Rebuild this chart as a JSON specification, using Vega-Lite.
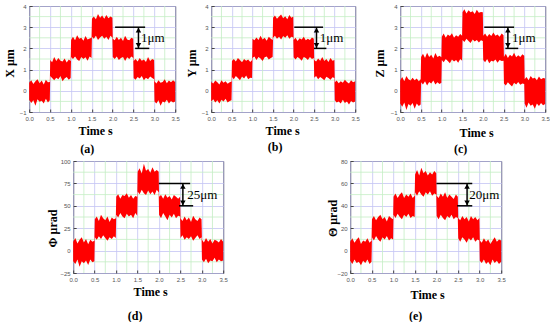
{
"$schema":"https://vega.github.io/schema/vega-lite/v6.json",
"background":"white",
"padding":{"left":2,"top":2,"right":0,"bottom":0},
"datasets":{
"xminor":[{"t":0.25},{"t":0.75},{"t":1.25},{"t":1.75},{"t":2.25},{"t":2.75},{"t":3.25}],
"yminor1":[{"lo":-0.5},{"lo":0.5},{"lo":1.5},{"lo":2.5},{"lo":3.5}],
"yminor25":[{"lo":-12.5},{"lo":12.5},{"lo":37.5},{"lo":62.5},{"lo":87.5}],
"yminor20":[{"lo":-10},{"lo":10},{"lo":30},{"lo":50},{"lo":70}],
"a":[{"t":0,"lo":-0.42,"hi":0.38},{"t":0.05,"lo":-0.58,"hi":0.5},{"t":0.1,"lo":-0.45,"hi":0.32},{"t":0.15,"lo":-0.7,"hi":0.45},{"t":0.2,"lo":-0.4,"hi":0.55},{"t":0.25,"lo":-0.52,"hi":0.36},{"t":0.3,"lo":-0.47,"hi":0.48},{"t":0.35,"lo":-0.6,"hi":0.3},{"t":0.4,"lo":-0.38,"hi":0.52},{"t":0.45,"lo":-0.55,"hi":0.4},{"t":0.495,"lo":-0.44,"hi":0.42},
{"t":0.505,"lo":0.7,"hi":1.45},{"t":0.55,"lo":0.6,"hi":1.35},{"t":0.6,"lo":0.5,"hi":1.6},{"t":0.65,"lo":0.62,"hi":1.4},{"t":0.7,"lo":0.55,"hi":1.55},{"t":0.75,"lo":0.7,"hi":1.42},{"t":0.8,"lo":0.45,"hi":1.38},{"t":0.85,"lo":0.58,"hi":1.52},{"t":0.9,"lo":0.65,"hi":1.34},{"t":0.95,"lo":0.52,"hi":1.48},{"t":0.995,"lo":0.6,"hi":1.4},
{"t":1.005,"lo":1.6,"hi":2.4},{"t":1.05,"lo":1.5,"hi":2.55},{"t":1.1,"lo":1.62,"hi":2.38},{"t":1.15,"lo":1.48,"hi":2.62},{"t":1.2,"lo":1.4,"hi":2.45},{"t":1.25,"lo":1.6,"hi":2.5},{"t":1.3,"lo":1.5,"hi":2.36},{"t":1.35,"lo":1.58,"hi":2.58},{"t":1.4,"lo":1.42,"hi":2.42},{"t":1.45,"lo":1.62,"hi":2.47},{"t":1.495,"lo":1.55,"hi":2.5},
{"t":1.505,"lo":2.55,"hi":3.4},{"t":1.55,"lo":2.45,"hi":3.5},{"t":1.6,"lo":2.6,"hi":3.38},{"t":1.65,"lo":2.4,"hi":3.62},{"t":1.7,"lo":2.52,"hi":3.45},{"t":1.75,"lo":2.6,"hi":3.55},{"t":1.8,"lo":2.45,"hi":3.4},{"t":1.85,"lo":2.55,"hi":3.58},{"t":1.9,"lo":2.4,"hi":3.42},{"t":1.95,"lo":2.6,"hi":3.5},{"t":1.995,"lo":2.5,"hi":3.45},
{"t":2.005,"lo":1.6,"hi":2.45},{"t":2.05,"lo":1.5,"hi":2.38},{"t":2.1,"lo":1.62,"hi":2.55},{"t":2.15,"lo":1.45,"hi":2.4},{"t":2.2,"lo":1.55,"hi":2.5},{"t":2.25,"lo":1.6,"hi":2.35},{"t":2.3,"lo":1.4,"hi":2.6},{"t":2.35,"lo":1.58,"hi":2.42},{"t":2.4,"lo":1.5,"hi":2.38},{"t":2.45,"lo":1.62,"hi":2.5},{"t":2.495,"lo":1.55,"hi":2.45},
{"t":2.505,"lo":0.6,"hi":1.4},{"t":2.55,"lo":0.52,"hi":1.5},{"t":2.6,"lo":0.65,"hi":1.38},{"t":2.65,"lo":0.58,"hi":1.55},{"t":2.7,"lo":0.7,"hi":1.42},{"t":2.75,"lo":0.5,"hi":1.48},{"t":2.8,"lo":0.62,"hi":1.36},{"t":2.85,"lo":0.55,"hi":1.6},{"t":2.9,"lo":0.68,"hi":1.4},{"t":2.95,"lo":0.6,"hi":1.5},{"t":2.995,"lo":0.55,"hi":1.45},
{"t":3.005,"lo":-0.5,"hi":0.45},{"t":3.05,"lo":-0.6,"hi":0.35},{"t":3.1,"lo":-0.45,"hi":0.5},{"t":3.15,"lo":-0.7,"hi":0.38},{"t":3.2,"lo":-0.5,"hi":0.42},{"t":3.25,"lo":-0.55,"hi":0.55},{"t":3.3,"lo":-0.42,"hi":0.36},{"t":3.35,"lo":-0.6,"hi":0.48},{"t":3.4,"lo":-0.48,"hi":0.4},{"t":3.45,"lo":-0.55,"hi":0.5},{"t":3.5,"lo":-0.5,"hi":0.42}],
"b":[{"t":0,"lo":-0.5,"hi":0.42},{"t":0.05,"lo":-0.4,"hi":0.35},{"t":0.1,"lo":-0.55,"hi":0.48},{"t":0.15,"lo":-0.45,"hi":0.4},{"t":0.2,"lo":-0.6,"hi":0.3},{"t":0.25,"lo":-0.42,"hi":0.5},{"t":0.3,"lo":-0.5,"hi":0.38},{"t":0.35,"lo":-0.38,"hi":0.45},{"t":0.4,"lo":-0.55,"hi":0.33},{"t":0.45,"lo":-0.48,"hi":0.4},{"t":0.495,"lo":-0.45,"hi":0.44},
{"t":0.505,"lo":0.65,"hi":1.4},{"t":0.55,"lo":0.55,"hi":1.5},{"t":0.6,"lo":0.7,"hi":1.38},{"t":0.65,"lo":0.6,"hi":1.55},{"t":0.7,"lo":0.5,"hi":1.45},{"t":0.75,"lo":0.68,"hi":1.35},{"t":0.8,"lo":0.58,"hi":1.5},{"t":0.85,"lo":0.72,"hi":1.42},{"t":0.9,"lo":0.55,"hi":1.48},{"t":0.95,"lo":0.62,"hi":1.36},{"t":0.995,"lo":0.6,"hi":1.45},
{"t":1.005,"lo":1.55,"hi":2.45},{"t":1.05,"lo":1.62,"hi":2.38},{"t":1.1,"lo":1.45,"hi":2.52},{"t":1.15,"lo":1.6,"hi":2.4},{"t":1.2,"lo":1.52,"hi":2.6},{"t":1.25,"lo":1.4,"hi":2.42},{"t":1.3,"lo":1.58,"hi":2.5},{"t":1.35,"lo":1.62,"hi":2.36},{"t":1.4,"lo":1.48,"hi":2.55},{"t":1.45,"lo":1.55,"hi":2.45},{"t":1.495,"lo":1.6,"hi":2.4},
{"t":1.505,"lo":2.5,"hi":3.45},{"t":1.55,"lo":2.6,"hi":3.55},{"t":1.6,"lo":2.45,"hi":3.4},{"t":1.65,"lo":2.55,"hi":3.5},{"t":1.7,"lo":2.42,"hi":3.6},{"t":1.75,"lo":2.58,"hi":3.42},{"t":1.8,"lo":2.5,"hi":3.52},{"t":1.85,"lo":2.62,"hi":3.38},{"t":1.9,"lo":2.45,"hi":3.58},{"t":1.95,"lo":2.55,"hi":3.45},{"t":1.995,"lo":2.52,"hi":3.5},
{"t":2.005,"lo":1.58,"hi":2.4},{"t":2.05,"lo":1.48,"hi":2.5},{"t":2.1,"lo":1.6,"hi":2.35},{"t":2.15,"lo":1.52,"hi":2.48},{"t":2.2,"lo":1.42,"hi":2.42},{"t":2.25,"lo":1.6,"hi":2.55},{"t":2.3,"lo":1.55,"hi":2.38},{"t":2.35,"lo":1.45,"hi":2.46},{"t":2.4,"lo":1.6,"hi":2.4},{"t":2.45,"lo":1.5,"hi":2.52},{"t":2.495,"lo":1.55,"hi":2.45},
{"t":2.505,"lo":0.62,"hi":1.45},{"t":2.55,"lo":0.7,"hi":1.38},{"t":2.6,"lo":0.55,"hi":1.52},{"t":2.65,"lo":0.65,"hi":1.42},{"t":2.7,"lo":0.58,"hi":1.6},{"t":2.75,"lo":0.5,"hi":1.4},{"t":2.8,"lo":0.66,"hi":1.5},{"t":2.85,"lo":0.6,"hi":1.36},{"t":2.9,"lo":0.52,"hi":1.55},{"t":2.95,"lo":0.64,"hi":1.42},{"t":2.995,"lo":0.6,"hi":1.45},
{"t":3.005,"lo":-0.45,"hi":0.4},{"t":3.05,"lo":-0.55,"hi":0.48},{"t":3.1,"lo":-0.5,"hi":0.36},{"t":3.15,"lo":-0.6,"hi":0.45},{"t":3.2,"lo":-0.42,"hi":0.38},{"t":3.25,"lo":-0.58,"hi":0.52},{"t":3.3,"lo":-0.5,"hi":0.42},{"t":3.35,"lo":-0.65,"hi":0.35},{"t":3.4,"lo":-0.48,"hi":0.5},{"t":3.45,"lo":-0.55,"hi":0.4},{"t":3.5,"lo":-0.5,"hi":0.45}],
"c":[{"t":0,"lo":-0.6,"hi":0.5},{"t":0.05,"lo":-0.75,"hi":0.65},{"t":0.1,"lo":-0.55,"hi":0.45},{"t":0.15,"lo":-0.9,"hi":0.7},{"t":0.2,"lo":-0.62,"hi":0.55},{"t":0.25,"lo":-0.7,"hi":0.48},{"t":0.3,"lo":-0.58,"hi":0.62},{"t":0.35,"lo":-0.85,"hi":0.5},{"t":0.4,"lo":-0.6,"hi":0.58},{"t":0.45,"lo":-0.72,"hi":0.45},{"t":0.495,"lo":-0.65,"hi":0.55},
{"t":0.505,"lo":0.4,"hi":1.6},{"t":0.55,"lo":0.3,"hi":1.75},{"t":0.6,"lo":0.45,"hi":1.55},{"t":0.65,"lo":0.25,"hi":1.8},{"t":0.7,"lo":0.42,"hi":1.6},{"t":0.75,"lo":0.35,"hi":1.7},{"t":0.8,"lo":0.48,"hi":1.52},{"t":0.85,"lo":0.3,"hi":1.78},{"t":0.9,"lo":0.4,"hi":1.6},{"t":0.95,"lo":0.32,"hi":1.65},{"t":0.995,"lo":0.38,"hi":1.58},
{"t":1.005,"lo":1.45,"hi":2.55},{"t":1.05,"lo":1.35,"hi":2.7},{"t":1.1,"lo":1.5,"hi":2.5},{"t":1.15,"lo":1.4,"hi":2.65},{"t":1.2,"lo":1.3,"hi":2.58},{"t":1.25,"lo":1.48,"hi":2.72},{"t":1.3,"lo":1.38,"hi":2.5},{"t":1.35,"lo":1.45,"hi":2.62},{"t":1.4,"lo":1.32,"hi":2.55},{"t":1.45,"lo":1.5,"hi":2.68},{"t":1.495,"lo":1.42,"hi":2.6},
{"t":1.505,"lo":2.4,"hi":3.7},{"t":1.55,"lo":2.3,"hi":3.85},{"t":1.6,"lo":2.45,"hi":3.65},{"t":1.65,"lo":2.35,"hi":3.8},{"t":1.7,"lo":2.25,"hi":3.7},{"t":1.75,"lo":2.42,"hi":3.75},{"t":1.8,"lo":2.32,"hi":3.62},{"t":1.85,"lo":2.4,"hi":3.82},{"t":1.9,"lo":2.28,"hi":3.68},{"t":1.95,"lo":2.38,"hi":3.72},{"t":1.995,"lo":2.35,"hi":3.7},
{"t":2.005,"lo":1.45,"hi":2.6},{"t":2.05,"lo":1.35,"hi":2.7},{"t":2.1,"lo":1.5,"hi":2.55},{"t":2.15,"lo":1.3,"hi":2.68},{"t":2.2,"lo":1.42,"hi":2.58},{"t":2.25,"lo":1.38,"hi":2.75},{"t":2.3,"lo":1.48,"hi":2.6},{"t":2.35,"lo":1.32,"hi":2.65},{"t":2.4,"lo":1.45,"hi":2.55},{"t":2.45,"lo":1.4,"hi":2.7},{"t":2.495,"lo":1.42,"hi":2.62},
{"t":2.505,"lo":0.35,"hi":1.6},{"t":2.55,"lo":0.25,"hi":1.75},{"t":2.6,"lo":0.4,"hi":1.55},{"t":2.65,"lo":0.3,"hi":1.7},{"t":2.7,"lo":0.2,"hi":1.62},{"t":2.75,"lo":0.38,"hi":1.8},{"t":2.8,"lo":0.3,"hi":1.58},{"t":2.85,"lo":0.42,"hi":1.68},{"t":2.9,"lo":0.28,"hi":1.6},{"t":2.95,"lo":0.35,"hi":1.72},{"t":2.995,"lo":0.32,"hi":1.65},
{"t":3.005,"lo":-0.6,"hi":0.55},{"t":3.05,"lo":-0.8,"hi":0.65},{"t":3.1,"lo":-0.55,"hi":0.5},{"t":3.15,"lo":-0.7,"hi":0.7},{"t":3.2,"lo":-0.65,"hi":0.58},{"t":3.25,"lo":-0.85,"hi":0.62},{"t":3.3,"lo":-0.6,"hi":0.5},{"t":3.35,"lo":-0.72,"hi":0.68},{"t":3.4,"lo":-0.58,"hi":0.55},{"t":3.45,"lo":-0.68,"hi":0.6},{"t":3.5,"lo":-0.62,"hi":0.58}],
"d":[{"t":0,"lo":-12,"hi":10},{"t":0.05,"lo":-15,"hi":14},{"t":0.1,"lo":-10,"hi":8},{"t":0.15,"lo":-18,"hi":12},{"t":0.2,"lo":-12,"hi":15},{"t":0.25,"lo":-14,"hi":9},{"t":0.3,"lo":-11,"hi":13},{"t":0.35,"lo":-16,"hi":7},{"t":0.4,"lo":-10,"hi":12},{"t":0.45,"lo":-13,"hi":10},{"t":0.495,"lo":-12,"hi":11},
{"t":0.505,"lo":15,"hi":35},{"t":0.55,"lo":12,"hi":38},{"t":0.6,"lo":16,"hi":33},{"t":0.65,"lo":13,"hi":40},{"t":0.7,"lo":17,"hi":36},{"t":0.75,"lo":14,"hi":34},{"t":0.8,"lo":11,"hi":38},{"t":0.85,"lo":15,"hi":32},{"t":0.9,"lo":13,"hi":37},{"t":0.95,"lo":16,"hi":35},{"t":0.995,"lo":14,"hi":36},
{"t":1.005,"lo":40,"hi":60},{"t":1.05,"lo":37,"hi":63},{"t":1.1,"lo":42,"hi":58},{"t":1.15,"lo":38,"hi":62},{"t":1.2,"lo":36,"hi":61},{"t":1.25,"lo":41,"hi":64},{"t":1.3,"lo":38,"hi":59},{"t":1.35,"lo":40,"hi":62},{"t":1.4,"lo":36,"hi":58},{"t":1.45,"lo":42,"hi":61},{"t":1.495,"lo":39,"hi":60},
{"t":1.505,"lo":66,"hi":88},{"t":1.55,"lo":63,"hi":92},{"t":1.6,"lo":68,"hi":86},{"t":1.65,"lo":64,"hi":97},{"t":1.7,"lo":62,"hi":89},{"t":1.75,"lo":67,"hi":91},{"t":1.8,"lo":63,"hi":87},{"t":1.85,"lo":66,"hi":93},{"t":1.9,"lo":62,"hi":88},{"t":1.95,"lo":68,"hi":90},{"t":1.995,"lo":65,"hi":88},
{"t":2.005,"lo":40,"hi":60},{"t":2.05,"lo":36,"hi":62},{"t":2.1,"lo":42,"hi":58},{"t":2.15,"lo":38,"hi":63},{"t":2.2,"lo":34,"hi":59},{"t":2.25,"lo":40,"hi":61},{"t":2.3,"lo":37,"hi":57},{"t":2.35,"lo":41,"hi":62},{"t":2.4,"lo":36,"hi":60},{"t":2.45,"lo":39,"hi":58},{"t":2.495,"lo":38,"hi":60},
{"t":2.505,"lo":14,"hi":36},{"t":2.55,"lo":17,"hi":33},{"t":2.6,"lo":12,"hi":38},{"t":2.65,"lo":15,"hi":34},{"t":2.7,"lo":13,"hi":37},{"t":2.75,"lo":16,"hi":32},{"t":2.8,"lo":11,"hi":39},{"t":2.85,"lo":14,"hi":35},{"t":2.9,"lo":17,"hi":33},{"t":2.95,"lo":13,"hi":37},{"t":2.995,"lo":15,"hi":35},
{"t":3.005,"lo":-10,"hi":12},{"t":3.05,"lo":-13,"hi":9},{"t":3.1,"lo":-9,"hi":14},{"t":3.15,"lo":-14,"hi":10},{"t":3.2,"lo":-11,"hi":13},{"t":3.25,"lo":-12,"hi":8},{"t":3.3,"lo":-8,"hi":12},{"t":3.35,"lo":-13,"hi":11},{"t":3.4,"lo":-10,"hi":9},{"t":3.45,"lo":-12,"hi":13},{"t":3.5,"lo":-11,"hi":10}],
"e":[{"t":0,"lo":-9,"hi":8},{"t":0.05,"lo":-12,"hi":11},{"t":0.1,"lo":-8,"hi":7},{"t":0.15,"lo":-11,"hi":10},{"t":0.2,"lo":-10,"hi":12},{"t":0.25,"lo":-13,"hi":6},{"t":0.3,"lo":-9,"hi":9},{"t":0.35,"lo":-11,"hi":8},{"t":0.4,"lo":-8,"hi":11},{"t":0.45,"lo":-12,"hi":7},{"t":0.495,"lo":-10,"hi":9},
{"t":0.505,"lo":12,"hi":28},{"t":0.55,"lo":9,"hi":31},{"t":0.6,"lo":13,"hi":27},{"t":0.65,"lo":10,"hi":30},{"t":0.7,"lo":8,"hi":32},{"t":0.75,"lo":12,"hi":28},{"t":0.8,"lo":10,"hi":30},{"t":0.85,"lo":13,"hi":26},{"t":0.9,"lo":9,"hi":31},{"t":0.95,"lo":11,"hi":29},{"t":0.995,"lo":10,"hi":28},
{"t":1.005,"lo":32,"hi":48},{"t":1.05,"lo":29,"hi":51},{"t":1.1,"lo":33,"hi":47},{"t":1.15,"lo":30,"hi":50},{"t":1.2,"lo":28,"hi":52},{"t":1.25,"lo":32,"hi":47},{"t":1.3,"lo":30,"hi":50},{"t":1.35,"lo":33,"hi":48},{"t":1.4,"lo":29,"hi":51},{"t":1.45,"lo":31,"hi":47},{"t":1.495,"lo":30,"hi":49},
{"t":1.505,"lo":52,"hi":68},{"t":1.55,"lo":49,"hi":72},{"t":1.6,"lo":53,"hi":67},{"t":1.65,"lo":50,"hi":74},{"t":1.7,"lo":48,"hi":69},{"t":1.75,"lo":52,"hi":71},{"t":1.8,"lo":50,"hi":67},{"t":1.85,"lo":53,"hi":70},{"t":1.9,"lo":49,"hi":68},{"t":1.95,"lo":51,"hi":71},{"t":1.995,"lo":50,"hi":69},
{"t":2.005,"lo":31,"hi":49},{"t":2.05,"lo":28,"hi":47},{"t":2.1,"lo":32,"hi":51},{"t":2.15,"lo":29,"hi":48},{"t":2.2,"lo":27,"hi":52},{"t":2.25,"lo":31,"hi":47},{"t":2.3,"lo":29,"hi":50},{"t":2.35,"lo":32,"hi":48},{"t":2.4,"lo":28,"hi":46},{"t":2.45,"lo":30,"hi":50},{"t":2.495,"lo":29,"hi":48},
{"t":2.505,"lo":11,"hi":29},{"t":2.55,"lo":8,"hi":27},{"t":2.6,"lo":12,"hi":31},{"t":2.65,"lo":10,"hi":28},{"t":2.7,"lo":7,"hi":30},{"t":2.75,"lo":11,"hi":26},{"t":2.8,"lo":9,"hi":31},{"t":2.85,"lo":12,"hi":28},{"t":2.9,"lo":8,"hi":30},{"t":2.95,"lo":10,"hi":27},{"t":2.995,"lo":9,"hi":29},
{"t":3.005,"lo":-9,"hi":9},{"t":3.05,"lo":-11,"hi":7},{"t":3.1,"lo":-8,"hi":11},{"t":3.15,"lo":-12,"hi":8},{"t":3.2,"lo":-10,"hi":10},{"t":3.25,"lo":-13,"hi":6},{"t":3.3,"lo":-8,"hi":9},{"t":3.35,"lo":-11,"hi":12},{"t":3.4,"lo":-9,"hi":8},{"t":3.45,"lo":-12,"hi":10},{"t":3.5,"lo":-10,"hi":9}]
},
"vconcat":[
 {"hconcat":[
  {"width":146,"height":106,
   "title":{"text":"(a)","orient":"bottom","anchor":"middle","frame":"group","dx":-15,"offset":8},
   "layer":[
    {"data":{"name":"xminor"},"mark":{"type":"rule","color":"#c4eec4","strokeWidth":0.8},"encoding":{"x":{"field":"t","type":"quantitative"}}},
    {"data":{"name":"yminor1"},"mark":{"type":"rule","color":"#c4eec4","strokeWidth":0.8},"encoding":{"y":{"field":"lo","type":"quantitative"}}},
    {"data":{"name":"a"},"mark":{"type":"area","color":"#ff0000","interpolate":"linear"},
     "encoding":{
      "x":{"field":"t","type":"quantitative","scale":{"domain":[0,3.5],"nice":false,"zero":false},"axis":{"values":[0,0.5,1,1.5,2,2.5,3,3.5],"tickCount":30,"format":".1f","title":"Time  s","titleX":66,"titleY":18,"titleBaseline":"middle"}},
      "y":{"field":"lo","type":"quantitative","scale":{"domain":[-1,4],"nice":false,"zero":false},"axis":{"values":[-1,0,1,2,3,4],"tickCount":30,"format":"d","title":"X  μm","titleX":-20,"titleY":57,"titleBaseline":"middle"}},
      "y2":{"field":"hi"}}},
    {"data":{"values":[{"t":2.06,"t2":2.78,"lo":3},{"t":2.54,"t2":2.88,"lo":2}]},"mark":{"type":"rule","color":"#000","strokeWidth":1.5},"encoding":{"x":{"field":"t","type":"quantitative"},"x2":{"field":"t2"},"y":{"field":"lo","type":"quantitative"}}},
    {"data":{"values":[{"t":2.62,"lo":2,"hi":3}]},"mark":{"type":"rule","color":"#000","strokeWidth":1.5},"encoding":{"x":{"field":"t","type":"quantitative"},"y":{"field":"lo","type":"quantitative"},"y2":{"field":"hi"}}},
    {"data":{"values":[{"t":2.62,"lo":3}]},"mark":{"type":"point","shape":"triangle-up","filled":true,"color":"#000","size":30,"yOffset":3,"opacity":1},"encoding":{"x":{"field":"t","type":"quantitative"},"y":{"field":"lo","type":"quantitative"}}},
    {"data":{"values":[{"t":2.62,"lo":2}]},"mark":{"type":"point","shape":"triangle-down","filled":true,"color":"#000","size":30,"yOffset":-3,"opacity":1},"encoding":{"x":{"field":"t","type":"quantitative"},"y":{"field":"lo","type":"quantitative"}}},
    {"data":{"values":[{"t":2.68,"lo":2.5,"label":"1μm"}]},"mark":{"type":"text","align":"left","baseline":"middle","fontSize":13,"font":"Liberation Serif","color":"#000"},"encoding":{"x":{"field":"t","type":"quantitative"},"y":{"field":"lo","type":"quantitative"},"text":{"field":"label"}}}
   ]},
  {"hconcat":[
   {"width":144,"height":106,
    "title":{"text":"(b)","orient":"bottom","anchor":"middle","frame":"group","dx":-8,"offset":6},
    "layer":[
     {"data":{"name":"xminor"},"mark":{"type":"rule","color":"#c4eec4","strokeWidth":0.8},"encoding":{"x":{"field":"t","type":"quantitative"}}},
     {"data":{"name":"yminor1"},"mark":{"type":"rule","color":"#c4eec4","strokeWidth":0.8},"encoding":{"y":{"field":"lo","type":"quantitative"}}},
     {"data":{"name":"b"},"mark":{"type":"area","color":"#ff0000","interpolate":"linear"},
      "encoding":{
       "x":{"field":"t","type":"quantitative","scale":{"domain":[0,3.5],"nice":false,"zero":false},"axis":{"values":[0,0.5,1,1.5,2,2.5,3,3.5],"tickCount":30,"format":".1f","title":"Time  s","titleX":71,"titleY":18,"titleBaseline":"middle"}},
       "y":{"field":"lo","type":"quantitative","scale":{"domain":[-1,4],"nice":false,"zero":false},"axis":{"values":[-1,0,1,2,3,4],"tickCount":30,"format":"d","title":"Y  μm","titleX":-20,"titleY":57,"titleBaseline":"middle"}},
       "y2":{"field":"hi"}}},
     {"data":{"values":[{"t":2.02,"t2":2.72,"lo":3},{"t":2.5,"t2":2.8,"lo":2}]},"mark":{"type":"rule","color":"#000","strokeWidth":1.5},"encoding":{"x":{"field":"t","type":"quantitative"},"x2":{"field":"t2"},"y":{"field":"lo","type":"quantitative"}}},
     {"data":{"values":[{"t":2.56,"lo":2,"hi":3}]},"mark":{"type":"rule","color":"#000","strokeWidth":1.5},"encoding":{"x":{"field":"t","type":"quantitative"},"y":{"field":"lo","type":"quantitative"},"y2":{"field":"hi"}}},
     {"data":{"values":[{"t":2.56,"lo":3}]},"mark":{"type":"point","shape":"triangle-up","filled":true,"color":"#000","size":30,"yOffset":3,"opacity":1},"encoding":{"x":{"field":"t","type":"quantitative"},"y":{"field":"lo","type":"quantitative"}}},
     {"data":{"values":[{"t":2.56,"lo":2}]},"mark":{"type":"point","shape":"triangle-down","filled":true,"color":"#000","size":30,"yOffset":-3,"opacity":1},"encoding":{"x":{"field":"t","type":"quantitative"},"y":{"field":"lo","type":"quantitative"}}},
     {"data":{"values":[{"t":2.64,"lo":2.5,"label":"1μm"}]},"mark":{"type":"text","align":"left","baseline":"middle","fontSize":13,"font":"Liberation Serif","color":"#000"},"encoding":{"x":{"field":"t","type":"quantitative"},"y":{"field":"lo","type":"quantitative"},"text":{"field":"label"}}}
    ]},
   {"width":145,"height":106,
    "title":{"text":"(c)","orient":"bottom","anchor":"middle","frame":"group","dx":-12,"offset":6},
    "layer":[
     {"data":{"name":"xminor"},"mark":{"type":"rule","color":"#c4eec4","strokeWidth":0.8},"encoding":{"x":{"field":"t","type":"quantitative"}}},
     {"data":{"name":"yminor1"},"mark":{"type":"rule","color":"#c4eec4","strokeWidth":0.8},"encoding":{"y":{"field":"lo","type":"quantitative"}}},
     {"data":{"name":"c"},"mark":{"type":"area","color":"#ff0000","interpolate":"linear"},
      "encoding":{
       "x":{"field":"t","type":"quantitative","scale":{"domain":[0,3.5],"nice":false,"zero":false},"axis":{"values":[0,0.5,1,1.5,2,2.5,3,3.5],"tickCount":30,"format":".1f","title":"Time  s","titleX":76,"titleY":20,"titleBaseline":"middle"}},
       "y":{"field":"lo","type":"quantitative","scale":{"domain":[-1,4],"nice":false,"zero":false},"axis":{"values":[-1,0,1,2,3,4],"tickCount":30,"format":"d","title":"Z  μm","titleX":-21,"titleY":57,"titleBaseline":"middle"}},
       "y2":{"field":"hi"}}},
     {"data":{"values":[{"t":2.03,"t2":2.75,"lo":3},{"t":2.54,"t2":2.85,"lo":2}]},"mark":{"type":"rule","color":"#000","strokeWidth":1.5},"encoding":{"x":{"field":"t","type":"quantitative"},"x2":{"field":"t2"},"y":{"field":"lo","type":"quantitative"}}},
     {"data":{"values":[{"t":2.6,"lo":2,"hi":3}]},"mark":{"type":"rule","color":"#000","strokeWidth":1.5},"encoding":{"x":{"field":"t","type":"quantitative"},"y":{"field":"lo","type":"quantitative"},"y2":{"field":"hi"}}},
     {"data":{"values":[{"t":2.6,"lo":3}]},"mark":{"type":"point","shape":"triangle-up","filled":true,"color":"#000","size":30,"yOffset":3,"opacity":1},"encoding":{"x":{"field":"t","type":"quantitative"},"y":{"field":"lo","type":"quantitative"}}},
     {"data":{"values":[{"t":2.6,"lo":2}]},"mark":{"type":"point","shape":"triangle-down","filled":true,"color":"#000","size":30,"yOffset":-3,"opacity":1},"encoding":{"x":{"field":"t","type":"quantitative"},"y":{"field":"lo","type":"quantitative"}}},
     {"data":{"values":[{"t":2.7,"lo":2.5,"label":"1μm"}]},"mark":{"type":"text","align":"left","baseline":"middle","fontSize":13,"font":"Liberation Serif","color":"#000"},"encoding":{"x":{"field":"t","type":"quantitative"},"y":{"field":"lo","type":"quantitative"},"text":{"field":"label"}}}
    ]}
  ],"spacing":45,"bounds":"flush"}
 ],"spacing":36,"bounds":"flush"},
 {"hconcat":[
  {"width":150,"height":112,
   "title":{"text":"(d)","orient":"bottom","anchor":"middle","frame":"group","dx":-13,"offset":14},
   "layer":[
    {"data":{"name":"xminor"},"mark":{"type":"rule","color":"#c4eec4","strokeWidth":0.8},"encoding":{"x":{"field":"t","type":"quantitative"}}},
    {"data":{"name":"yminor25"},"mark":{"type":"rule","color":"#c4eec4","strokeWidth":0.8},"encoding":{"y":{"field":"lo","type":"quantitative"}}},
    {"data":{"name":"d"},"mark":{"type":"area","color":"#ff0000","interpolate":"linear"},
     "encoding":{
      "x":{"field":"t","type":"quantitative","scale":{"domain":[0,3.5],"nice":false,"zero":false},"axis":{"values":[0,0.5,1,1.5,2,2.5,3,3.5],"tickCount":30,"format":".1f","title":"Time  s","titleX":77,"titleY":18,"titleBaseline":"middle"}},
      "y":{"field":"lo","type":"quantitative","scale":{"domain":[-25,100],"nice":false,"zero":false},"axis":{"values":[-25,0,25,50,75,100],"tickCount":30,"format":"d","title":"Φ  μrad","titleX":-21,"titleY":67,"titleBaseline":"middle"}},
      "y2":{"field":"hi"}}},
    {"data":{"values":[{"t":2.0,"t2":2.73,"lo":75},{"t":2.47,"t2":2.8,"lo":50}]},"mark":{"type":"rule","color":"#000","strokeWidth":1.5},"encoding":{"x":{"field":"t","type":"quantitative"},"x2":{"field":"t2"},"y":{"field":"lo","type":"quantitative"}}},
    {"data":{"values":[{"t":2.56,"lo":50,"hi":75}]},"mark":{"type":"rule","color":"#000","strokeWidth":1.5},"encoding":{"x":{"field":"t","type":"quantitative"},"y":{"field":"lo","type":"quantitative"},"y2":{"field":"hi"}}},
    {"data":{"values":[{"t":2.56,"lo":75}]},"mark":{"type":"point","shape":"triangle-up","filled":true,"color":"#000","size":30,"yOffset":3,"opacity":1},"encoding":{"x":{"field":"t","type":"quantitative"},"y":{"field":"lo","type":"quantitative"}}},
    {"data":{"values":[{"t":2.56,"lo":50}]},"mark":{"type":"point","shape":"triangle-down","filled":true,"color":"#000","size":30,"yOffset":-3,"opacity":1},"encoding":{"x":{"field":"t","type":"quantitative"},"y":{"field":"lo","type":"quantitative"}}},
    {"data":{"values":[{"t":2.66,"lo":62.5,"label":"25μm"}]},"mark":{"type":"text","align":"left","baseline":"middle","fontSize":13,"font":"Liberation Serif","color":"#000"},"encoding":{"x":{"field":"t","type":"quantitative"},"y":{"field":"lo","type":"quantitative"},"text":{"field":"label"}}}
   ]},
  {"width":151,"height":112,
   "title":{"text":"(e)","orient":"bottom","anchor":"middle","frame":"group","dx":-10,"offset":11},
   "layer":[
    {"data":{"name":"xminor"},"mark":{"type":"rule","color":"#c4eec4","strokeWidth":0.8},"encoding":{"x":{"field":"t","type":"quantitative"}}},
    {"data":{"name":"yminor20"},"mark":{"type":"rule","color":"#c4eec4","strokeWidth":0.8},"encoding":{"y":{"field":"lo","type":"quantitative"}}},
    {"data":{"name":"e"},"mark":{"type":"area","color":"#ff0000","interpolate":"linear"},
     "encoding":{
      "x":{"field":"t","type":"quantitative","scale":{"domain":[0,3.5],"nice":false,"zero":false},"axis":{"values":[0,0.5,1,1.5,2,2.5,3,3.5],"tickCount":30,"format":".1f","title":"Time  s","titleX":77,"titleY":21,"titleBaseline":"middle"}},
      "y":{"field":"lo","type":"quantitative","scale":{"domain":[-20,80],"nice":false,"zero":false},"axis":{"values":[-20,0,20,40,60,80],"tickCount":30,"format":"d","title":"Θ  μrad","titleX":-18,"titleY":57,"titleBaseline":"middle"}},
      "y2":{"field":"hi"}}},
    {"data":{"values":[{"t":2.0,"t2":2.83,"lo":60},{"t":2.48,"t2":2.83,"lo":40}]},"mark":{"type":"rule","color":"#000","strokeWidth":1.5},"encoding":{"x":{"field":"t","type":"quantitative"},"x2":{"field":"t2"},"y":{"field":"lo","type":"quantitative"}}},
    {"data":{"values":[{"t":2.71,"lo":40,"hi":60}]},"mark":{"type":"rule","color":"#000","strokeWidth":1.5},"encoding":{"x":{"field":"t","type":"quantitative"},"y":{"field":"lo","type":"quantitative"},"y2":{"field":"hi"}}},
    {"data":{"values":[{"t":2.71,"lo":60}]},"mark":{"type":"point","shape":"triangle-up","filled":true,"color":"#000","size":30,"yOffset":3,"opacity":1},"encoding":{"x":{"field":"t","type":"quantitative"},"y":{"field":"lo","type":"quantitative"}}},
    {"data":{"values":[{"t":2.71,"lo":40}]},"mark":{"type":"point","shape":"triangle-down","filled":true,"color":"#000","size":30,"yOffset":-3,"opacity":1},"encoding":{"x":{"field":"t","type":"quantitative"},"y":{"field":"lo","type":"quantitative"}}},
    {"data":{"values":[{"t":2.76,"lo":50,"label":"20μm"}]},"mark":{"type":"text","align":"left","baseline":"middle","fontSize":13,"font":"Liberation Serif","color":"#000"},"encoding":{"x":{"field":"t","type":"quantitative"},"y":{"field":"lo","type":"quantitative"},"text":{"field":"label"}}}
   ]}
 ],"spacing":127,"bounds":"flush"}
],
"spacing":1,"center":true,
"config":{
 "view":{"stroke":"#222","strokeWidth":1},
 "axis":{"labelFont":"Liberation Sans","labelFontSize":6,"labelColor":"#555","labelPadding":6,"labelOverlap":false,"labelFlush":false,"labelBound":false,"tickSize":-3,"tickColor":"#444","domain":false,"gridColor":"#c4c4f4","gridWidth":0.8,"titleFont":"Liberation Serif","titleFontWeight":"bold","titleFontSize":12,"titleColor":"#000"},
 "title":{"font":"Liberation Serif","fontSize":12,"fontWeight":"bold","color":"#000"}
}
}
